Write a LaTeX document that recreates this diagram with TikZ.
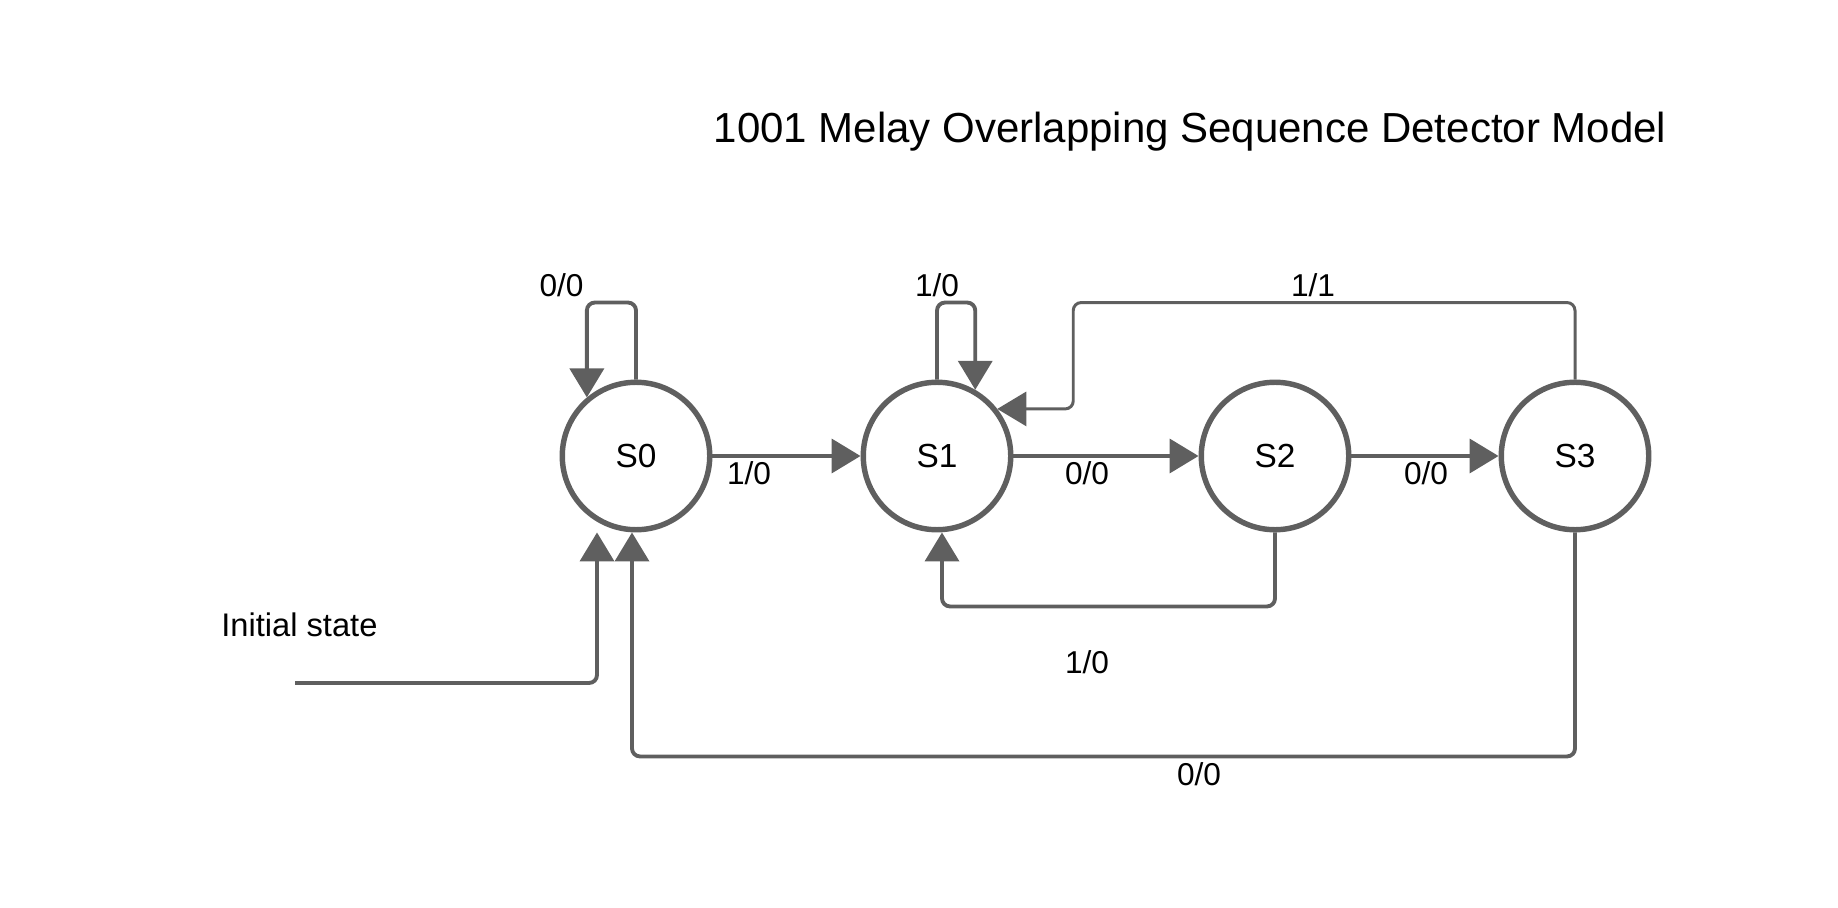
\documentclass[tikz,border=0pt]{standalone}
\usepackage{fontspec}
\setmainfont{Liberation Sans}
\usetikzlibrary{arrows.meta}
\definecolor{linegray}{HTML}{5F5F5F}
\tikzset{
	state/.style={circle, draw=linegray, line width=3.1pt, minimum size=2.95cm, inner sep=0pt, font=\fontsize{19}{22}\selectfont},
	conn/.style={draw=linegray, line width=2.2pt, rounded corners=0.16cm, -{Triangle[length=0.58cm, width=0.68cm]}},
	lbl/.style={anchor=base, inner sep=0pt, font=\fontsize{18}{21}\selectfont},
}
\begin{document}
\begin{tikzpicture}[x=0.02cm, y=-0.02cm]
	\useasboundingbox (0,0) rectangle (1838,908);
	\node[anchor=base, inner sep=0pt, font=\fontsize{23.9}{28}\selectfont] (title) at (1190,143) {1001 Melay Overlapping Sequence Detector Model};
	\foreach \s/\x in {S0/636, S1/937, S2/1275, S3/1575}{
		\node[state] (\s) at (\x,456) {\s};
	}
	% forward transitions
	\draw[conn] (S0) -- (S1);
	\draw[conn] (S1) -- (S2);
	\draw[conn] (S2) -- (S3);
	% self loops
	\draw[conn] (S0.north) -- ++(0,-77) -| (S0.130);
	\draw[conn] (S1.north) -- ++(0,-77) -| (S1.60);
	% back transitions
	\draw[conn, line width=1.7pt] (S3.north) -- ++(0,-77) -| ([xshift=1.52cm]S1.38) -- (S1.38);
	\draw[conn] (S2.south) -- ++(0,74) -| ([xshift=0.1cm]S1.south);
	\draw[conn] (S3.south) -- ++(0,224) -| ([xshift=-0.08cm]S0.south);
	% initial state
	\coordinate (start) at (295,683);
	\draw[conn] (start) -| ([xshift=-0.78cm]S0.south);
	\node[lbl, font=\fontsize{18.6}{22}\selectfont] (init) at (299.4,636) {Initial state};
	% labels
	\node[lbl] (l00a) at (561.5,297) {0/0};
	\node[lbl] (l10a) at (937,297) {1/0};
	\node[lbl] (l11) at (1313,297) {1/1};
	\node[lbl] (l10b) at (749,484) {1/0};
	\node[lbl] (l00b) at (1087,484) {0/0};
	\node[lbl] (l00c) at (1426,484) {0/0};
	\node[lbl] (l10c) at (1087,673) {1/0};
	\node[lbl] (l00d) at (1199,785) {0/0};
\end{tikzpicture}
\end{document}
